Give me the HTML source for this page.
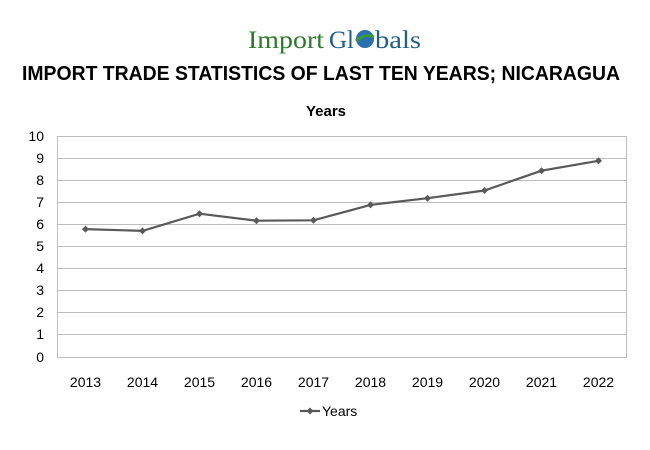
<!DOCTYPE html>
<html><head><style>
body{margin:0;background:#fff;width:650px;height:450px;overflow:hidden}
svg{display:block}
</style></head><body>
<svg width="650" height="450" viewBox="0 0 650 450" xmlns="http://www.w3.org/2000/svg">
<text x="248" y="48" font-family="Liberation Serif, serif" font-size="25" fill="#2a7a2a" textLength="76" lengthAdjust="spacingAndGlyphs">Import</text>
<text x="329" y="48" font-family="Liberation Serif, serif" font-size="25" fill="#1f5f8a">Gl</text>
<circle cx="365" cy="39" r="9" fill="#2a6fb0"/>
<path d="M356 41 Q365 33 374 37" stroke="#3a9a3a" stroke-width="3" fill="none"/>
<text x="375" y="48" font-family="Liberation Serif, serif" font-size="25" fill="#1f5f8a" textLength="46" lengthAdjust="spacingAndGlyphs">bals</text>
<text x="22" y="80" font-family="Liberation Sans, sans-serif" font-size="20" font-weight="bold" fill="#000" textLength="598" lengthAdjust="spacingAndGlyphs">IMPORT TRADE STATISTICS OF LAST TEN YEARS; NICARAGUA</text>
<text x="326" y="116" text-anchor="middle" font-family="Liberation Sans, sans-serif" font-size="15" font-weight="bold" fill="#000">Years</text>
<g stroke="#bdbdbd" stroke-width="1">
<line x1="57" y1="136.5" x2="627" y2="136.5"/>
<line x1="57" y1="158.5" x2="627" y2="158.5"/>
<line x1="57" y1="180.5" x2="627" y2="180.5"/>
<line x1="57" y1="202.5" x2="627" y2="202.5"/>
<line x1="57" y1="224.5" x2="627" y2="224.5"/>
<line x1="57" y1="246.5" x2="627" y2="246.5"/>
<line x1="57" y1="268.5" x2="627" y2="268.5"/>
<line x1="57" y1="290.5" x2="627" y2="290.5"/>
<line x1="57" y1="312.5" x2="627" y2="312.5"/>
<line x1="57" y1="334.5" x2="627" y2="334.5"/>
<line x1="57" y1="357.5" x2="627" y2="357.5"/>
<line x1="57.5" y1="136" x2="57.5" y2="357"/>
<line x1="626.5" y1="136" x2="626.5" y2="357"/>
</g>
<g font-family="Liberation Sans, sans-serif" font-size="14" fill="#000" text-anchor="end">
<text x="44" y="141">10</text><text x="44" y="163">9</text><text x="44" y="185">8</text>
<text x="44" y="207">7</text><text x="44" y="229">6</text><text x="44" y="251">5</text>
<text x="44" y="273">4</text><text x="44" y="295">3</text><text x="44" y="317">2</text>
<text x="44" y="339">1</text><text x="44" y="362">0</text>
</g>
<g font-family="Liberation Sans, sans-serif" font-size="14" fill="#000" text-anchor="middle">
<text x="85.5" y="387">2013</text><text x="142.5" y="387">2014</text><text x="199.5" y="387">2015</text>
<text x="256.5" y="387">2016</text><text x="313.5" y="387">2017</text><text x="370.5" y="387">2018</text>
<text x="427.5" y="387">2019</text><text x="484.5" y="387">2020</text><text x="541.5" y="387">2021</text>
<text x="598.5" y="387">2022</text>
</g>
<polyline fill="none" stroke="#595959" stroke-width="2.2" points="85.5,229.1 142.5,230.9 199.5,213.7 256.5,220.7 313.5,220.3 370.5,204.9 427.5,198.2 484.5,190.5 541.5,170.7 598.5,160.8"/>
<g fill="#595959">
<path d="M85.5 225.6l3.5 3.5-3.5 3.5-3.5-3.5z"/><path d="M142.5 227.4l3.5 3.5-3.5 3.5-3.5-3.5z"/>
<path d="M199.5 210.2l3.5 3.5-3.5 3.5-3.5-3.5z"/><path d="M256.5 217.2l3.5 3.5-3.5 3.5-3.5-3.5z"/>
<path d="M313.5 216.8l3.5 3.5-3.5 3.5-3.5-3.5z"/><path d="M370.5 201.4l3.5 3.5-3.5 3.5-3.5-3.5z"/>
<path d="M427.5 194.7l3.5 3.5-3.5 3.5-3.5-3.5z"/><path d="M484.5 187l3.5 3.5-3.5 3.5-3.5-3.5z"/>
<path d="M541.5 167.2l3.5 3.5-3.5 3.5-3.5-3.5z"/><path d="M598.5 157.3l3.5 3.5-3.5 3.5-3.5-3.5z"/>
</g>
<line x1="300" y1="411" x2="320" y2="411" stroke="#595959" stroke-width="2.2"/>
<path d="M310 407.5l3.5 3.5-3.5 3.5-3.5-3.5z" fill="#595959"/>
<text x="322" y="416" font-family="Liberation Sans, sans-serif" font-size="14" fill="#000">Years</text>
</svg>
</body></html>
